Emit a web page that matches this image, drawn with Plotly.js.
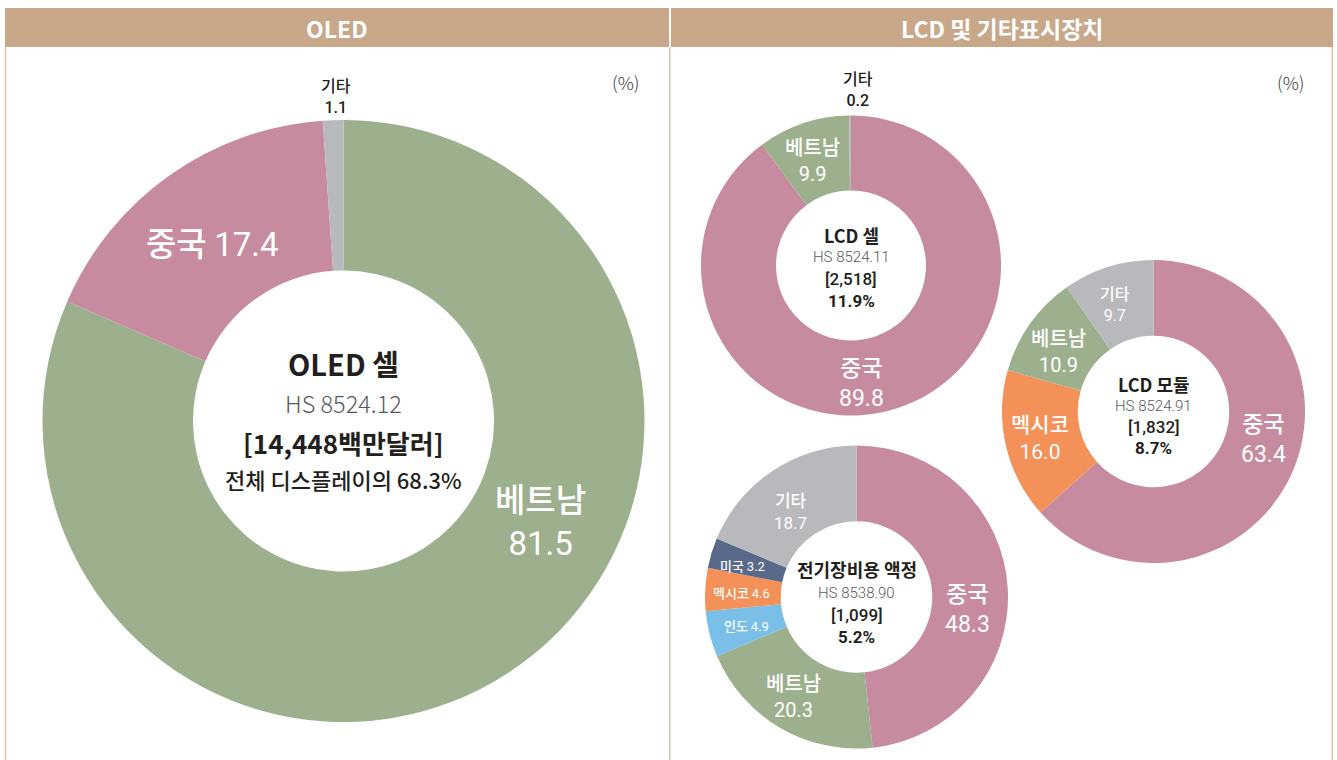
<!DOCTYPE html>
<html><head><meta charset="utf-8">
<script src="https://cdn.plot.ly/plotly-3.0.1.min.js"></script>
<style>html,body{margin:0;padding:0;background:#fff}#chart{width:1337px;height:760px}</style>
</head><body><div id="chart"></div>
<script>
// ---------- data ----------
const oledCountries = ['베트남', '중국', '기타'];
const oledShares = [81.5, 17.4, 1.1];
const lcdCellCountries = ['중국', '베트남', '기타'];
const lcdCellShares = [89.8, 9.9, 0.2];
const lcdModuleCountries = ['중국', '멕시코', '베트남', '기타'];
const lcdModuleShares = [63.4, 16.0, 10.9, 9.7];
const elecLcdCountries = ['중국', '베트남', '인도', '멕시코', '미국', '기타'];
const elecLcdShares = [48.3, 20.3, 4.9, 4.6, 3.2, 18.7];

const panelTitles = ['OLED', 'LCD 및 기타표시장치'];
const chartNames = ['OLED 셀', 'LCD 셀', 'LCD 모듈', '전기장비용 액정'];
const hsCodes = ['HS 8524.12', 'HS 8524.11', 'HS 8524.91', 'HS 8538.90'];
const amounts = ['[14,448백만달러]', '[2,518]', '[1,832]', '[1,099]'];
const shareNotes = ['전체 디스플레이의 68.3%', '11.9%', '8.7%', '5.2%'];
const unitLabel = '(%)';

// ---------- style / layout ----------
const W = 1337, H = 760;
const px = x => x / W;
const py = y => 1 - y / H;
const FONT = '"Noto Sans CJK KR", "Noto Sans", sans-serif';
const NUMFONT = 'Roboto, "Noto Sans", sans-serif';
const COLORS = {'중국': '#c78b9f', '베트남': '#9db08e', '기타': '#b8b9bd',
                '멕시코': '#f39158', '인도': '#79bfe8', '미국': '#58698a'};
const DARK = '#231f20', GREY = '#58595b', HEAD = '#c8a889', BORDER = '#dcc4aa';

// label style: (x, y) = centre of the label block in px
const donuts = [
  {countries: oledCountries, shares: oledShares, cx: 343.5, cy: 421, r: 301,
   labels: [{x: 540, y: 518, size: 33}, {x: 212, y: 242, one: true, size: 33},
            {x: 336, y: 95, size: 16, dark: true}],
   center: {ys: [363, 403, 442, 479], sizes: [29, 23.5, 26, 22], w: [700, 300, 700, 500],
            latin: [false, false, false, false]}},
  {countries: lcdCellCountries, shares: lcdCellShares, cx: 851, cy: 265.5, r: 150,
   labels: [{x: 861, y: 381, size: 23}, {x: 813, y: 159, size: 20},
            {x: 858, y: 88, size: 16, dark: true}],
   center: {ys: [235, 257, 279, 301], sizes: [18, 15, 17, 17], w: [700, 300, 500, 700],
            latin: [false, true, true, true]}},
  {countries: lcdModuleCountries, shares: lcdModuleShares, cx: 1153.5, cy: 411.5, r: 151.5,
   labels: [{x: 1263, y: 437, size: 23}, {x: 1040, y: 436, size: 21},
            {x: 1058, y: 350, size: 20}, {x: 1115, y: 303, size: 16}],
   center: {ys: [384, 406, 427, 448], sizes: [18, 15, 17, 17], w: [700, 300, 500, 700],
            latin: [false, true, true, true]}},
  {countries: elecLcdCountries, shares: elecLcdShares, cx: 856.5, cy: 597, r: 151.5,
   labels: [{x: 967, y: 606, size: 23}, {x: 793, y: 695, size: 20},
            {x: 746, y: 625, one: true, size: 13}, {x: 741, y: 592, one: true, size: 13},
            {x: 742, y: 565, one: true, size: 13}, {x: 790, y: 510, size: 17}],
   center: {ys: [569, 593, 615, 637], sizes: [18, 15, 17, 17], w: [700, 300, 500, 700],
            latin: [false, true, true, true]}}
];

const traces = [];
const annotations = [];
const shapes = [];

function ann(text, x, y, size, color, weight, family) {
  annotations.push({text: text, x: px(x), y: py(y), xref: 'paper', yref: 'paper',
    xanchor: 'center', yanchor: 'middle', showarrow: false, borderpad: 0,
    font: {family: family || FONT, size: size, color: color, weight: weight}});
}
const num = (v, w) => '<span style="font-family:Roboto;font-weight:' + w + '">' + v + '</span>';

donuts.forEach((d, i) => {
  traces.push({
    type: 'pie', labels: d.countries, values: d.shares, hole: 0.5, sort: false,
    direction: 'clockwise', rotation: 0, textinfo: 'none', hoverinfo: 'label+value',
    marker: {colors: d.countries.map(c => COLORS[c]), line: {width: 0}},
    domain: {x: [px(d.cx - d.r), px(d.cx + d.r)], y: [py(d.cy + d.r), py(d.cy - d.r)]},
    showlegend: false
  });
  d.countries.forEach((c, k) => {
    const s = d.labels[k];
    const col = s.dark ? DARK : '#ffffff';
    const nw = s.dark ? 500 : 400;
    const val = d.shares[k].toFixed(1);
    ann(s.one ? c + ' ' + num(val, nw) : c + '<br>' + num(val, nw), s.x, s.y, s.size, col, 500);
  });
  const texts = [chartNames[i], hsCodes[i], amounts[i], shareNotes[i]];
  texts.forEach((t, k) => {
    ann(t, d.cx, d.center.ys[k], d.center.sizes[k], k === 1 ? GREY : DARK, d.center.w[k],
        d.center.latin[k] ? NUMFONT : FONT);
  });
});

// panel headers
const headers = [{x0: 5, x1: 669, cx: 337}, {x0: 671, x1: 1333, cx: 1002}];
headers.forEach((h, i) => {
  shapes.push({type: 'rect', xref: 'paper', yref: 'paper', x0: px(h.x0), x1: px(h.x1),
    y0: py(47), y1: py(8), fillcolor: HEAD, line: {width: 0}, layer: 'below'});
  ann(panelTitles[i], h.cx, 27.5, 23, '#ffffff', 700);
});
[5.5, 669.8, 1332.3].forEach(x => {
  shapes.push({type: 'line', xref: 'paper', yref: 'paper', x0: px(x), x1: px(x),
    y0: py(47), y1: py(760), line: {color: BORDER, width: 1.5}});
});
ann(unitLabel, 626, 82, 18, '#3a3a3c', 300);
ann(unitLabel, 1291, 82, 18, '#3a3a3c', 300);

Plotly.newPlot('chart', traces, {
  width: W, height: H, autosize: false,
  margin: {l: 0, r: 0, t: 0, b: 0},
  paper_bgcolor: '#ffffff', plot_bgcolor: '#ffffff',
  font: {family: FONT},
  annotations: annotations, shapes: shapes
}, {staticPlot: true, displayModeBar: false});
</script>
</body></html>
